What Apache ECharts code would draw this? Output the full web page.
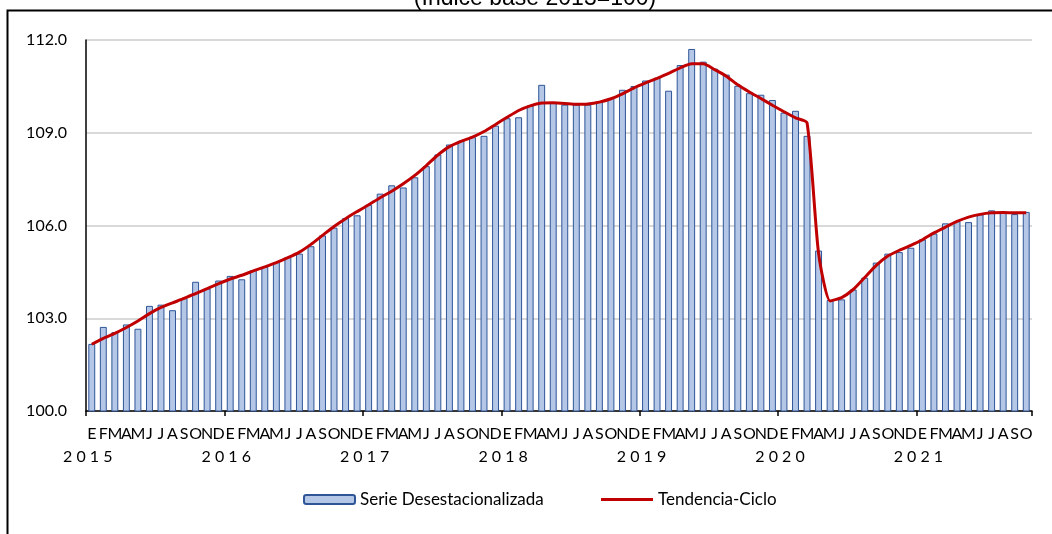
<!DOCTYPE html>
<html>
<head>
<meta charset="utf-8">
<script src="https://cdn.jsdelivr.net/npm/echarts@6/dist/echarts.min.js"></script>
<style>
  html, body { margin: 0; padding: 0; background: #fff; }
  #chart { width: 1052px; height: 534px; }
</style>
</head>
<body>
<div id="chart"></div>
<script>
// etiquetas de meses y años
var monthLetters = ["E", "F", "M", "A", "M", "J", "J", "A", "S", "O", "N", "D"];
var years = ["2015", "2016", "2017", "2018", "2019", "2020", "2021"];

// Serie Desestacionalizada (ene 2015 - oct 2021)
var serie2015 = [102.17, 102.72, 102.55, 102.80, 102.66, 103.40, 103.44, 103.26, 103.65, 104.18, 103.96, 104.22];
var serie2016 = [104.37, 104.26, 104.56, 104.66, 104.82, 104.98, 105.09, 105.33, 105.68, 105.93, 106.24, 106.33];
var serie2017 = [106.67, 107.03, 107.30, 107.23, 107.56, 107.92, 108.30, 108.62, 108.74, 108.86, 108.90, 109.23];
var serie2018 = [109.47, 109.50, 109.88, 110.55, 109.96, 109.91, 109.91, 109.91, 110.02, 110.12, 110.39, 110.51];
var serie2019 = [110.69, 110.78, 110.36, 111.19, 111.71, 111.30, 111.07, 110.88, 110.52, 110.28, 110.23, 110.06];
var serie2020 = [109.65, 109.71, 108.90, 105.19, 103.59, 103.61, 103.93, 104.31, 104.80, 105.09, 105.14, 105.28];
var serie2021 = [105.55, 105.74, 106.07, 106.14, 106.11, 106.36, 106.49, 106.42, 106.37, 106.44];

// Tendencia-Ciclo
var tend2015 = [102.16, 102.35, 102.51, 102.70, 102.91, 103.15, 103.35, 103.50, 103.64, 103.80, 103.96, 104.12];
var tend2016 = [104.27, 104.39, 104.53, 104.66, 104.80, 104.96, 105.14, 105.39, 105.68, 105.97, 106.22, 106.45];
var tend2017 = [106.67, 106.90, 107.11, 107.35, 107.62, 107.94, 108.28, 108.55, 108.72, 108.86, 109.04, 109.27];
var tend2018 = [109.50, 109.72, 109.87, 109.96, 109.97, 109.95, 109.92, 109.93, 109.99, 110.10, 110.26, 110.45];
var tend2019 = [110.61, 110.76, 110.92, 111.10, 111.23, 111.23, 111.04, 110.83, 110.55, 110.32, 110.11, 109.89];
var tend2020 = [109.68, 109.48, 109.32, 105.10, 103.56, 103.67, 103.93, 104.32, 104.71, 105.01, 105.20, 105.36];
var tend2021 = [105.54, 105.76, 105.95, 106.13, 106.27, 106.36, 106.41, 106.42, 106.41, 106.41];

var serie = [].concat(serie2015, serie2016, serie2017, serie2018, serie2019, serie2020, serie2021);
var tendencia = [].concat(tend2015, tend2016, tend2017, tend2018, tend2019, tend2020, tend2021);

var categories = [];
for (var i = 0; i < serie.length; i++) {
    categories.push(years[Math.floor(i / 12)] + "-" + (i % 12 + 1));
}

var font = "Lato, 'Noto Sans', sans-serif";

var myChart = echarts.init(document.getElementById("chart"), null, {renderer: "canvas"});

var option = {
    animation: false,
    backgroundColor: "#fff",
    graphic: [
        {
            type: "rect",
            z: -1,
            shape: {x: 7.5, y: 10.5, width: 1200, height: 700},
            style: {fill: "none", stroke: "#000", lineWidth: 2}
        },
        {
            type: "text",
            x: 535,
            y: 10,
            style: {
                text: "(Índice base 2013=100)",
                font: "23px 'Liberation Sans', Arial, sans-serif",
                fill: "#000",
                align: "center",
                verticalAlign: "bottom"
            }
        }
    ],
    grid: {
        left: 86,
        right: 20,
        top: 40,
        bottom: 123
    },
    legend: [
        {
            data: ["Serie Desestacionalizada"],
            left: 298,
            top: 486,
            itemWidth: 51,
            itemHeight: 9,
            textStyle: {fontFamily: font, fontSize: 17, color: "#000"}
        },
        {
            data: ["Tendencia-Ciclo"],
            left: 596,
            top: 486,
            icon: "rect",
            itemWidth: 52,
            itemHeight: 3,
            textStyle: {fontFamily: font, fontSize: 17, color: "#000"}
        }
    ],
    xAxis: [
        {
            type: "category",
            data: categories,
            boundaryGap: true,
            axisLine: {lineStyle: {color: "#000", width: 1.5}},
            axisTick: {
                show: true,
                length: 5,
                interval: function (index) { return index % 12 === 0; },
                lineStyle: {color: "#000", width: 1.5}
            },
            axisLabel: {
                interval: 0,
                margin: 15,
                fontFamily: font,
                fontSize: 16,
                color: "#000",
                formatter: function (value, index) {
                    return monthLetters[index % 12];
                }
            },
            splitLine: {show: false}
        },
        {
            type: "category",
            data: categories,
            position: "bottom",
            boundaryGap: true,
            axisLine: {show: false},
            axisTick: {show: false},
            axisLabel: {
                interval: 0,
                margin: 38,
                fontFamily: font,
                fontSize: 16,
                color: "#000",
                padding: [0, 8, 0, 0],
                formatter: function (value, index) {
                    if (index % 12 !== 0) return "";
                    return years[index / 12].split("").join(" ");
                }
            },
            splitLine: {show: false}
        }
    ],
    yAxis: {
        type: "value",
        min: 100,
        max: 112,
        interval: 3,
        axisLine: {show: true, lineStyle: {color: "#000", width: 1.5}},
        axisTick: {show: false},
        axisLabel: {
            margin: 19,
            fontFamily: font,
            fontSize: 16,
            color: "#000",
            formatter: function (v) { return v.toFixed(1); }
        },
        splitLine: {lineStyle: {color: "#d9d9d9", width: 2}}
    },
    series: [
        {
            name: "Serie Desestacionalizada",
            type: "bar",
            data: serie,
            barCategoryGap: "40%",
            itemStyle: {
                color: "#b4c7e7",
                borderColor: "#2f5597",
                borderWidth: 1
            }
        },
        {
            name: "Tendencia-Ciclo",
            type: "line",
            data: tendencia,
            smooth: 0.2,
            symbol: "none",
            z: 3,
            itemStyle: {color: "#c00000"},
            lineStyle: {color: "#c00000", width: 3}
        }
    ]
};

myChart.setOption(option);
</script>
</body>
</html>
